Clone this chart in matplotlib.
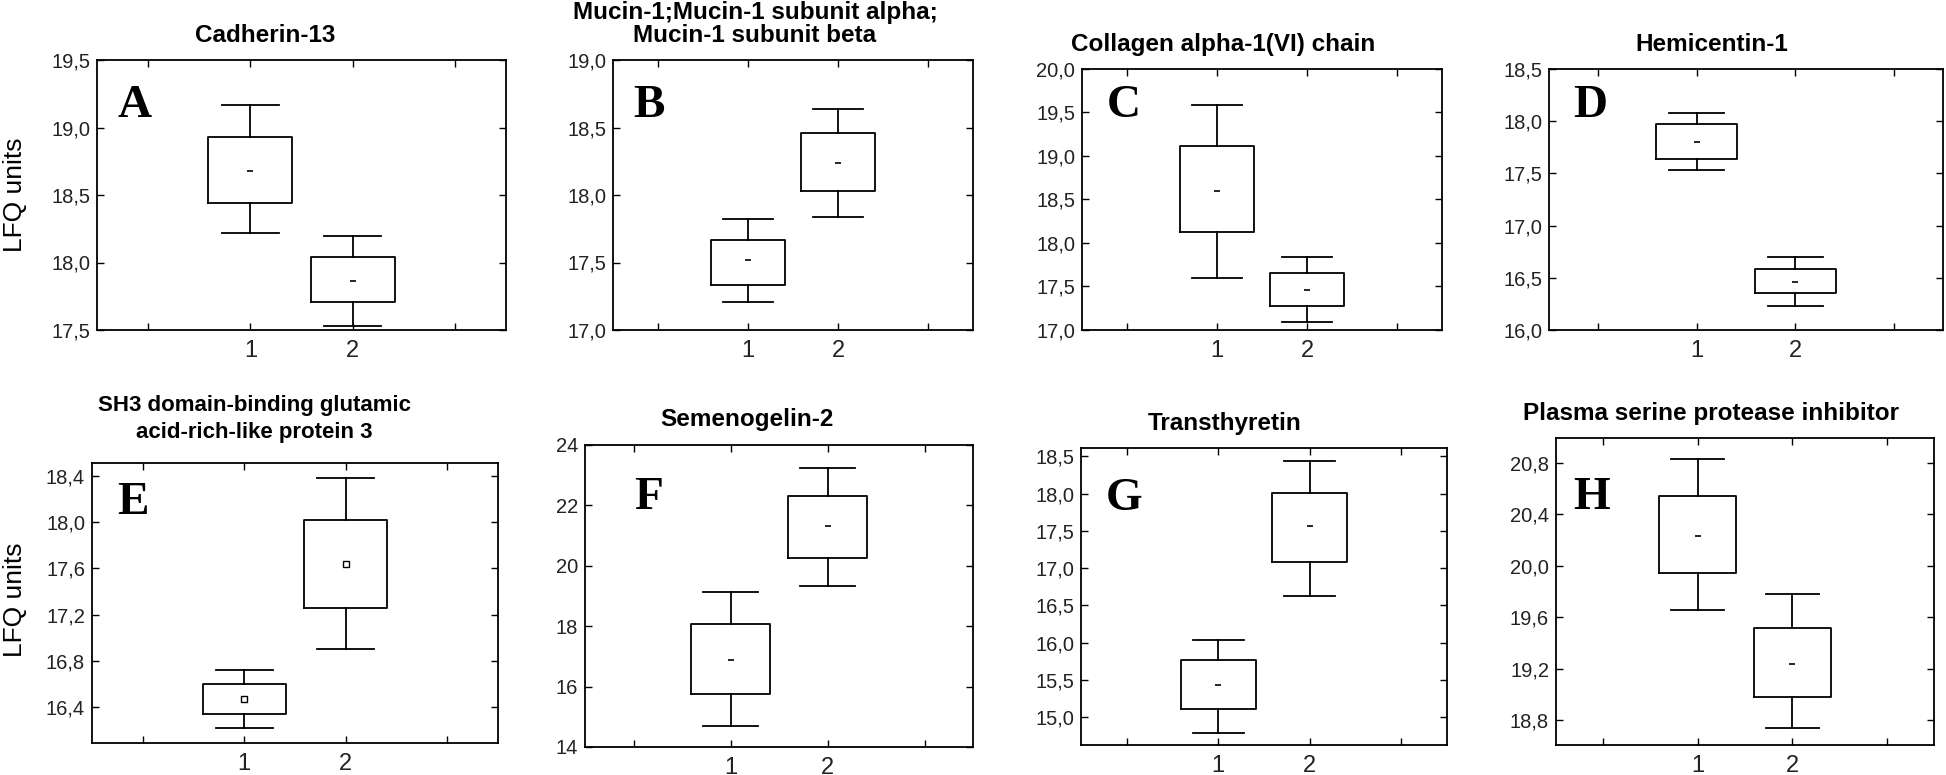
import matplotlib.pyplot as plt

plt.rcParams['font.family'] = ['Liberation Sans', 'DejaVu Sans']

# panel titles and letters
titles = [
    "Cadherin-13",
    "Mucin-1;Mucin-1 subunit alpha;\nMucin-1 subunit beta",
    "Collagen alpha-1(VI) chain",
    "Hemicentin-1",
    "SH3 domain-binding glutamic\nacid-rich-like protein 3",
    "Semenogelin-2",
    "Transthyretin",
    "Plasma serine protease inhibitor",
]
letters = ["A", "B", "C", "D", "E", "F", "G", "H"]
groups = ["1", "2"]

# group 1 box values (whisker low, Q1, centre, Q3, whisker high)
g1_whislo = [18.22, 17.21, 17.60, 17.53, 16.22, 14.70, 14.79, 19.66]
g1_q1 = [18.44, 17.33, 18.13, 17.64, 16.34, 15.77, 15.11, 19.94]
g1_center = [18.68, 17.52, 18.60, 17.80, 16.47, 16.87, 15.43, 20.23]
g1_q3 = [18.93, 17.67, 19.11, 17.97, 16.60, 18.08, 15.77, 20.54]
g1_whishi = [19.17, 17.82, 19.59, 18.08, 16.72, 19.14, 16.04, 20.83]

# group 2 box values
g2_whislo = [17.53, 17.84, 17.09, 16.23, 16.90, 19.33, 16.63, 18.74]
g2_q1 = [17.71, 18.03, 17.28, 16.35, 17.26, 20.25, 17.08, 18.98]
g2_center = [17.86, 18.24, 17.46, 16.46, 17.64, 21.33, 17.56, 19.24]
g2_q3 = [18.04, 18.46, 17.65, 16.58, 18.02, 22.30, 18.01, 19.52]
g2_whishi = [18.20, 18.64, 17.84, 16.70, 18.38, 23.24, 18.44, 19.78]

# y axis ranges and ticks
ylims = [(17.5, 19.5), (17.0, 19.0), (17.0, 20.0), (16.0, 18.5),
         (16.09, 18.51), (14, 24), (14.63, 18.61), (18.61, 20.99)]
yticks = [
    [17.5, 18.0, 18.5, 19.0, 19.5],
    [17.0, 17.5, 18.0, 18.5, 19.0],
    [17.0, 17.5, 18.0, 18.5, 19.0, 19.5, 20.0],
    [16.0, 16.5, 17.0, 17.5, 18.0, 18.5],
    [16.4, 16.8, 17.2, 17.6, 18.0, 18.4],
    [14, 16, 18, 20, 22, 24],
    [15.0, 15.5, 16.0, 16.5, 17.0, 17.5, 18.0, 18.5],
    [18.8, 19.2, 19.6, 20.0, 20.4, 20.8],
]

# layout in pixels: left, top, right, bottom of each plot area
W, H = 1946, 775
axes_px = [(97, 60, 506, 330), (613, 60, 973, 330), (1082, 69, 1442, 330), (1549, 69, 1943, 330),
           (92, 463, 498, 743), (585, 445, 973, 747), (1081, 448, 1447, 745), (1556, 438, 1934, 745)]
title_cx = [265, 755, 1223, 1712, 254, 747, 1225, 1711]
title_pad = [13, 13, 13, 13, 18, 14, 13, 13]
title_size = [17.5, 17.5, 17.5, 17.5, 16, 17.5, 17.5, 17.5]
title_ls = [1.0, 1.0, 1.0, 1.0, 1.4, 1.0, 1.0, 1.0]
letter_off = [(20, 25), (20, 25), (25, 16), (24, 16), (25, 19), (49, 32), (25, 30), (17, 39)]

fig = plt.figure(figsize=(W / 100, H / 100), dpi=100)

for i in range(8):
    l, t, r, b = axes_px[i]
    ax = fig.add_axes([l / W, 1 - b / H, (r - l) / W, (b - t) / H])

    stats = [
        dict(med=g1_center[i], mean=g1_center[i], q1=g1_q1[i], q3=g1_q3[i],
             whislo=g1_whislo[i], whishi=g1_whishi[i], fliers=[]),
        dict(med=g2_center[i], mean=g2_center[i], q1=g2_q1[i], q3=g2_q3[i],
             whislo=g2_whislo[i], whishi=g2_whishi[i], fliers=[]),
    ]
    if i == 4:
        meanprops = dict(marker='s', markersize=4, markerfacecolor='white',
                         markeredgecolor='black', markeredgewidth=1)
    else:
        meanprops = dict(marker='_', markersize=5, markeredgecolor='black',
                         markeredgewidth=1.2)
    line = dict(color='black', linewidth=1.3)
    ax.bxp(stats, positions=[1, 2], widths=0.82, capwidths=0.56,
           showmeans=True, meanline=False, showfliers=False,
           boxprops=line, whiskerprops=line, capprops=line,
           medianprops=dict(visible=False), meanprops=meanprops)

    ax.set_xlim(-0.5, 3.5)
    ax.set_xticks([0, 1, 2, 3])
    ax.set_xticklabels([''] + groups + [''])
    ax.set_ylim(*ylims[i])
    ax.set_yticks(yticks[i])
    if i == 5:
        ax.set_yticklabels([f"{v:.0f}" for v in yticks[i]])
    else:
        ax.set_yticklabels([f"{v:.1f}".replace('.', ',') for v in yticks[i]])

    ax.tick_params(direction='in', top=True, right=True, length=5, width=1,
                   colors='black', labelcolor='#222222')
    ax.tick_params(axis='y', labelsize=14.5, pad=5)
    ax.tick_params(axis='x', labelsize=17, pad=7)
    for s in ax.spines.values():
        s.set_linewidth(1.3)

    ax.set_title(titles[i], x=(title_cx[i] - l) / (r - l), pad=title_pad[i],
                 fontsize=title_size[i], fontweight='bold', linespacing=title_ls[i])

    dx, dy = letter_off[i]
    ax.annotate(letters[i], xy=(0, 1), xycoords='axes fraction',
                xytext=(dx, -dy), textcoords='offset pixels',
                ha='left', va='top', fontsize=34, fontweight='bold',
                family='Liberation Serif')

fig.text(15 / W, 1 - 195 / H, "LFQ units", rotation=90, ha='center', va='center', fontsize=19)
fig.text(15 / W, 1 - 600 / H, "LFQ units", rotation=90, ha='center', va='center', fontsize=19)

fig.savefig("out.png", dpi=100)
